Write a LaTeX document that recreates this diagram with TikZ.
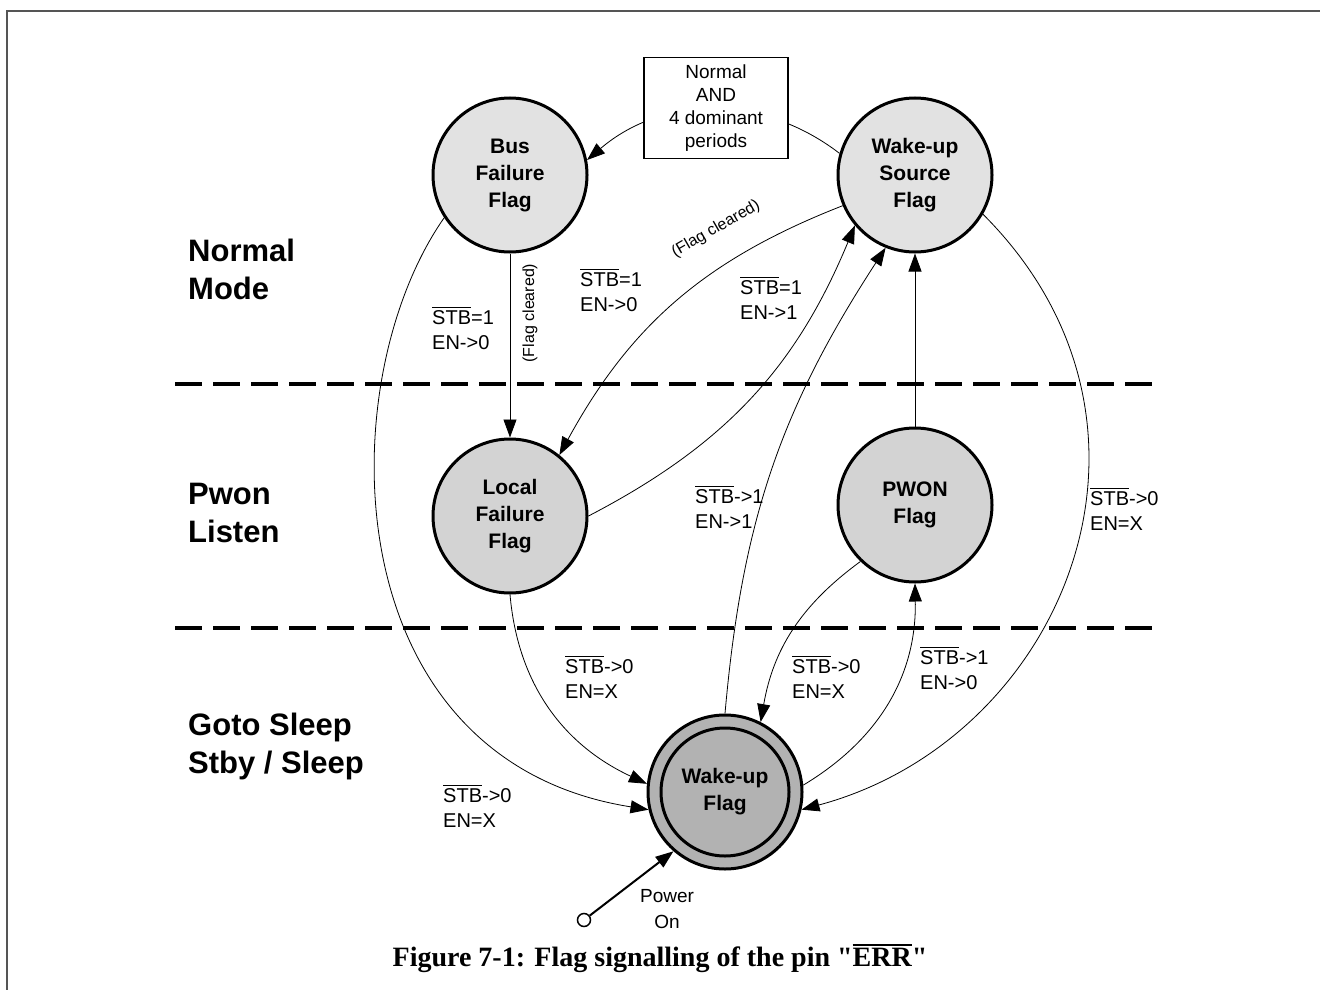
\documentclass[tikz,border=0pt]{standalone}
\usepackage{fontspec}
\setmainfont{Liberation Sans}
\newfontfamily\capfont{Liberation Serif}
\usetikzlibrary{arrows.meta}

% signal name with a bar over it
\newcommand{\ovl}[1]{\vbox{\hrule height 1.3pt\kern 2.5pt\hbox{#1}}}
\newcommand{\ovlcap}[1]{\vbox{\hrule height 2pt\kern 2pt\hbox{#1}}}

\definecolor{framegray}{HTML}{555555}
\definecolor{flaglight}{HTML}{E2E2E2}
\definecolor{flagmid}{HTML}{D3D3D3}
\definecolor{flagdark}{HTML}{B2B2B2}

\begin{document}
\begin{tikzpicture}[x=1pt,y=-1pt,
  state/.style={circle,draw,line width=3pt,minimum size=154pt,inner sep=0pt,
    align=center,font=\bfseries\fontsize{21}{27}\selectfont},
  conn/.style={line width=0.8pt,-{Triangle[length=18pt,width=13pt]}},
  lbl/.style={anchor=west,align=left,inner sep=0pt,font=\fontsize{20}{25}\selectfont},
  note/.style={inner sep=0pt,font=\fontsize{16}{19}\selectfont},
  mode/.style={anchor=west,align=left,inner sep=0pt,font=\bfseries\fontsize{31}{38}\selectfont},
  sep/.style={line width=4pt,dash pattern=on 27pt off 11pt},
]
\useasboundingbox (0,0) rectangle (1320,990);

% page frame
\draw[framegray,line width=1.5pt] (7,990) -- (7,11) -- (1320,11);

% mode separators
\draw[sep] (175,384) -- (1162,384);
\draw[sep] (175,628) -- (1162,628);

% mode names
\node[mode] (mNormal) at (188,269) {Normal\\Mode};
\node[mode] (mPwon)   at (188,513) {Pwon\\Listen};
\node[mode] (mSleep)  at (188,746) {Goto Sleep\\Stby / Sleep};

% flag states
\node[state,fill=flaglight] (bf)  at (510,175) {Bus\\Failure\\Flag};
\node[state,fill=flaglight] (wus) at (915,175) {Wake-up\\Source\\Flag};
\node[state,fill=flagmid]   (lf)  at (510,516) {Local\\Failure\\Flag};
\node[state,fill=flagmid]   (pw)  at (915,505) {PWON\\Flag};
\node[state,fill=flagdark]  (wf)  at (725,792) {};
\node[state,minimum size=128pt] (wfin) at (wf) {Wake-up\\Flag};

% transitions
\draw[conn] (wus.164) to[bend right=39] (bf.11);
\node[draw,fill=white,line width=1.3pt,minimum width=144pt,minimum height=101pt,
  align=center,font=\fontsize{19}{23}\selectfont] (cond) at (716,108)
  {Normal\\AND\\4 dominant\\periods};

\draw[conn] (bf) -- (lf);
\node[note,rotate=90] (fc1) at (530,313) {(Flag cleared)};
\node[lbl] (t1) at (432,328) {\ovl{STB}=1\\EN->0};

\draw[conn] (wus.203) to[bend right=20] (lf.51);
\node[note,rotate=30] (fc2) at (716,229) {(Flag cleared)};
\node[lbl] (t2) at (580,290) {\ovl{STB}=1\\EN->0};

\draw[conn] (lf.east) to[bend right=20] (wus.220);
\node[lbl] (t3) at (740,298) {\ovl{STB}=1\\EN->1};

\draw[conn] (pw) -- (wus);

\draw[conn] (wf.north) to[bend left=14] (wus.248);
\node[lbl] (t4) at (695,507) {\ovl{STB}->1\\EN->1};

\draw[conn] (wf.5) to[bend right=30] (pw.south);
\node[lbl] (t5) at (920,668) {\ovl{STB}->1\\EN->0};

\draw[conn] (pw.226) to[bend right=22] (wf.63);
\node[lbl] (t6) at (792,677) {\ovl{STB}->0\\EN=X};

\draw[conn] (lf.south) to[out=-85,in=155] (wf.174);
\node[lbl] (t7) at (565,677) {\ovl{STB}->0\\EN=X};

\draw[conn] (bf.213) to[out=235,in=171,out distance=200pt,in distance=320pt] (wf.193);
\node[lbl] (t8) at (443,806) {\ovl{STB}->0\\EN=X};

\draw[conn] (wus.-30) to[out=-45,in=15,out distance=300pt,in distance=270pt] (wf.-13);
\node[lbl] (t9) at (1090,509) {\ovl{STB}->0\\EN=X};

% power-on entry
\node[circle,draw,line width=1.5pt,minimum size=13pt,inner sep=0pt] (pwr) at (584,920) {};
\draw[line width=2pt,-{Triangle[length=18pt,width=13pt]}] (pwr) -- (wf.229);
\node[align=center,inner sep=0pt,font=\fontsize{19}{26}\selectfont] (pwrlbl) at (667,909) {Power\\On};

% caption
\node[inner sep=0pt,font=\capfont\bfseries\fontsize{28}{32}\selectfont] (cap) at (660,958)
  {Figure 7-1: Flag signalling of the pin "\ovlcap{ERR}"};
\end{tikzpicture}
\end{document}
